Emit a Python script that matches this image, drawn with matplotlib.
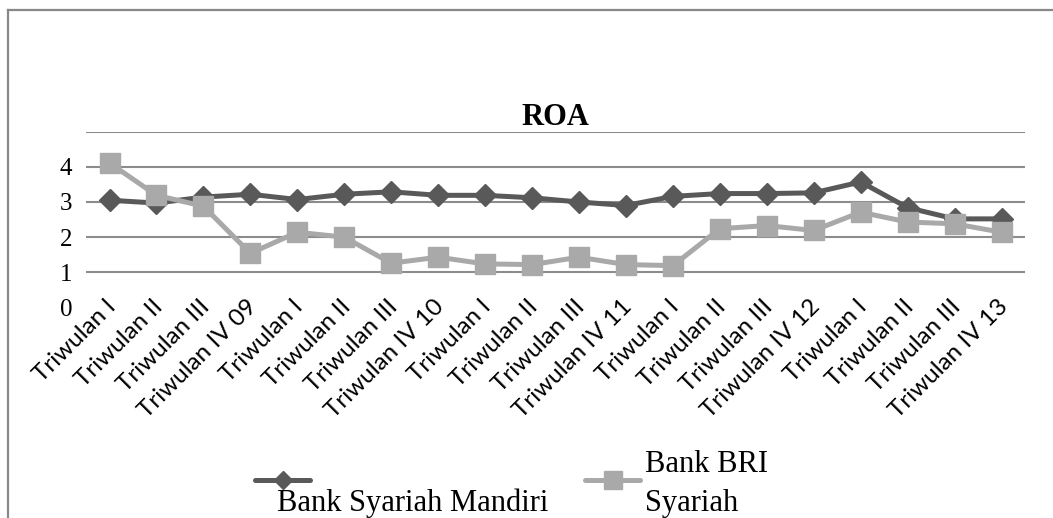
import matplotlib
matplotlib.use("Agg")
import matplotlib.pyplot as plt
from matplotlib.lines import Line2D
import matplotlib.transforms as mtransforms

# data
Categories = ["Triwulan I", "Triwulan II", "Triwulan III", "Triwulan IV 09",
              "Triwulan I", "Triwulan II", "Triwulan III", "Triwulan IV 10",
              "Triwulan I", "Triwulan II", "Triwulan III", "Triwulan IV 11",
              "Triwulan I", "Triwulan II", "Triwulan III", "Triwulan IV 12",
              "Triwulan I", "Triwulan II", "Triwulan III", "Triwulan IV 13"]
Mandiri = [3.05, 2.97, 3.14, 3.22, 3.07, 3.22, 3.29, 3.19, 3.19, 3.12,
           3.00, 2.90, 3.16, 3.24, 3.24, 3.26, 3.57, 2.84, 2.52, 2.52]
BRI = [4.11, 3.19, 2.88, 1.54, 2.14, 2.00, 1.26, 1.43, 1.24, 1.22,
       1.43, 1.22, 1.19, 2.24, 2.33, 2.19, 2.71, 2.43, 2.38, 2.14]
YTicks = [0, 1, 2, 3, 4, 5]
YTickLabels = ["0", "1", "2", "3", "4", ""]

DarkGray = "#595959"
LightGray = "#a9a9a9"
GridGray = "#8c8c8c"
plt.rcParams['font.family'] = ['Liberation Serif', 'DejaVu Serif']

fig = plt.figure(figsize=(10.53, 5.18), dpi=100)
ax = fig.add_axes([0.0817, 0.4064, 0.8917, 0.3394])

x = range(len(Categories))
ax.plot(x, Mandiri, color=DarkGray, lw=3.6, marker="D", ms=11,
        mfc=DarkGray, mec=DarkGray, zorder=3)
ax.plot(x, BRI, color=LightGray, lw=3.6, marker="s", ms=14,
        mfc=LightGray, mec=LightGray, zorder=4)

ax.set_xlim(-0.5, len(Categories) - 0.5)
ax.set_ylim(0, 5)
ax.yaxis.grid(True, color=GridGray, lw=1.5)
ax.set_axisbelow(True)
ax.tick_params(axis="both", length=0)
ax.tick_params(axis="y", pad=10, labelsize=18)
ax.tick_params(axis="x", pad=1)
ax.set_yticks(YTicks)
ax.set_yticklabels(YTickLabels)
ax.set_xticks(list(x))
ax.set_xticklabels(Categories)
ax.get_ygridlines()[0].set_visible(False)
offset = mtransforms.ScaledTranslation(2 / 72, 4 / 72, fig.dpi_scale_trans)
for lab in ax.get_xticklabels():
    lab.set_fontfamily("Lato")
    lab.set_fontsize(17.5)
    lab.set_rotation(45)
    lab.set_ha("right")
    lab.set_va("center")
    lab.set_rotation_mode("anchor")
    lab.set_transform(lab.get_transform() + offset)

for s in ax.spines.values():
    s.set_visible(False)

ax.set_title("ROA", fontsize=22, fontweight="bold", pad=5)

# outer frame (top and left only)
fig.add_artist(Line2D([8 / 1053, 8 / 1053], [0, 1 - 10 / 518], color="#888888", lw=1.6))
fig.add_artist(Line2D([8 / 1053, 1], [1 - 10 / 518, 1 - 10 / 518], color="#888888", lw=1.6))

# legend drawn by hand to copy the wrapped layout
ly = 1 - 480 / 518
fig.add_artist(Line2D([255 / 1053, 310 / 1053], [ly, ly], color=DarkGray, lw=3.6,
                      solid_capstyle="round"))
fig.add_artist(Line2D([282.5 / 1053], [ly], color=DarkGray, marker="D", ms=9,
                      mec=DarkGray))
fig.text(277 / 1053, 1 - 503 / 518, "Bank Syariah Mandiri", fontsize=22,
         va="center", ha="left")
fig.add_artist(Line2D([585 / 1053, 640 / 1053], [ly, ly], color=LightGray, lw=3.6,
                      solid_capstyle="round"))
fig.add_artist(Line2D([612.5 / 1053], [ly], color=LightGray, marker="s", ms=13,
                      mec=LightGray))
fig.text(645 / 1053, 1 - 465 / 518, "Bank BRI", fontsize=22, va="center", ha="left")
fig.text(645 / 1053, 1 - 503 / 518, "Syariah", fontsize=22, va="center", ha="left")

fig.savefig("out.png", dpi=100)
